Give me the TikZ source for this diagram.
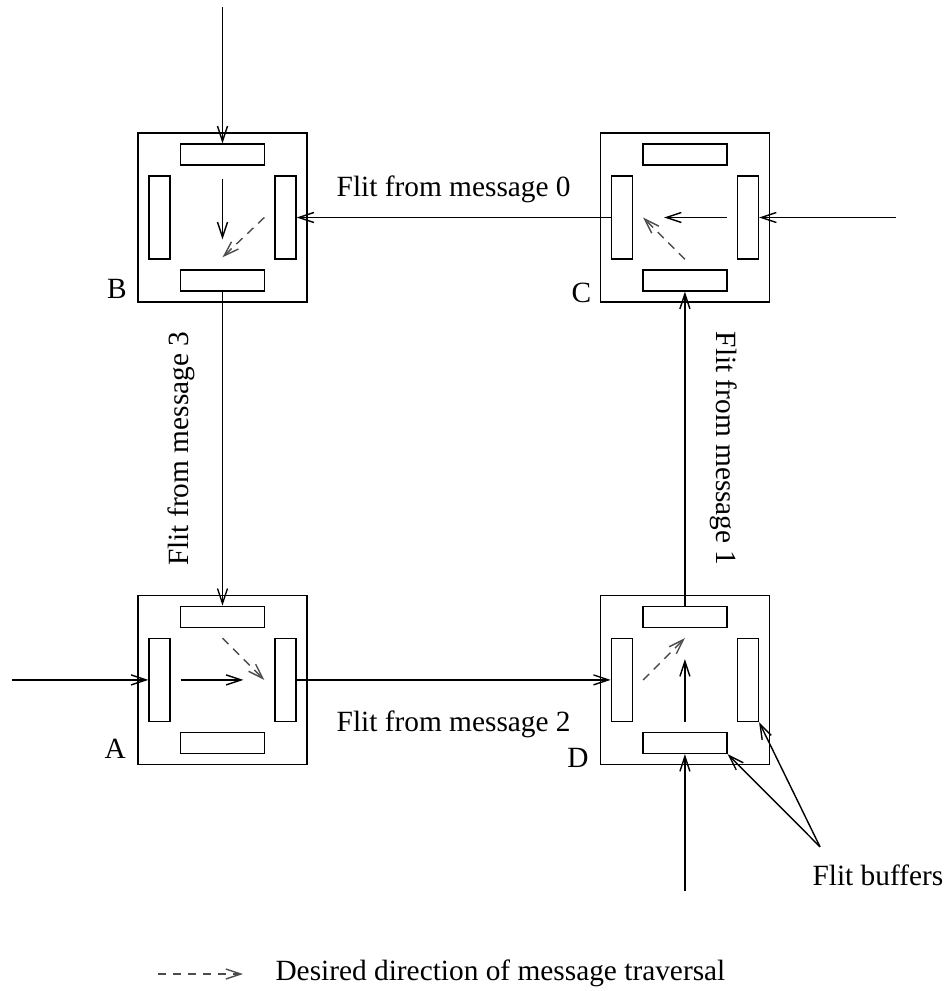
\documentclass[tikz,border=0pt]{standalone}
\usepackage{fontspec}
\setmainfont{Liberation Serif}
\usetikzlibrary{positioning}
\usetikzlibrary{calc}
\usetikzlibrary{arrows.meta}

\begin{document}
\begin{tikzpicture}[
    font=\fontsize{16.7}{20}\selectfont,
    line width=0.8pt,
    >={Straight Barb[length=3mm, width=2mm]},
    node distance=5.84cm,
    router/.style={draw, minimum size=3.38cm, inner sep=0pt},
    hbuf/.style={draw, minimum width=1.68cm, minimum height=0.42cm, inner sep=0pt},
    vbuf/.style={draw, minimum width=0.42cm, minimum height=1.66cm, inner sep=0pt},
    desired/.style={->, dash pattern=on 1.7mm off 1.3mm, black!70},
    ]

    \useasboundingbox (-4.45,4.35) rectangle (14.45,-15.47);

    \node[router, label={[anchor=base east, xshift=-0.08cm, yshift=0.08cm]south west:B}] (B) {};
    \node[router, right=of B, label={[anchor=base east, xshift=-0.04cm]south west:C}] (C) {};
    \node[router, below=of B, label={[anchor=base east, xshift=-0.1cm, yshift=0.14cm]south west:A}] (A) {};
    \node[router, right=of A, label={[anchor=base east, xshift=-0.09cm, yshift=-0.04cm]south west:D}] (D) {};

    \foreach \r in {A,B,C,D} {
        \node[hbuf] (\r-n) at ([yshift=1.26cm]\r.center) {};
        \node[hbuf] (\r-s) at ([yshift=-1.26cm]\r.center) {};
        \node[vbuf] (\r-e) at ([xshift=1.26cm]\r.center) {};
        \node[vbuf] (\r-w) at ([xshift=-1.26cm]\r.center) {};
    }

    % incoming flits
    \coordinate[above=2.73cm of B-n] (Bin);
    \coordinate[right=2.73cm of C-e] (Cin);
    \coordinate[left=2.73cm of A-w] (Ain);
    \coordinate[below=2.73cm of D-s] (Din);
    \draw[->] (Bin) -- (B-n);
    \draw[->] (Cin) -- (C-e);
    \draw[->] (Ain) -- (A-w);
    \draw[->] (Din) -- (D-s);

    % links between routers
    \draw[->] (C-w) -- node[above=1.7mm] (m0) {Flit from message 0} (B-e);
    \draw[->] (A-e) -- node[below=4.9mm] (m2) {Flit from message 2} (D-w);
    \draw[->] (B-s) -- (A-n);
    \draw[->] (D-n) -- (C-s);
    \node[rotate=90, anchor=south] (m3) at ([xshift=-0.43cm]$(B-s)!0.5!(A-n)$) {Flit from message 3};
    \node[rotate=-90, anchor=south] (m1) at ([xshift=0.38cm]$(D-n)!0.5!(C-s)$) {Flit from message 1};

    % inside the routers
    \draw[->, shorten <=0.26cm, shorten >=0.6cm] (B-n) -- (B-s);
    \draw[->, shorten <=0.2cm, shorten >=0.62cm] (C-e) -- (C-w);
    \draw[->, shorten <=0.2cm, shorten >=0.62cm] (A-w) -- (A-e);
    \draw[->, shorten <=0.2cm, shorten >=0.62cm] (D-s) -- (D-n);
    \draw[desired] ([xshift=-2mm]B-e.west) -- ([yshift=2.4mm]B-s.north);
    \draw[desired] ([yshift=2mm]C-s.north) -- ([xshift=2mm]C-w.east);
    \draw[desired] ([yshift=-2mm]A-n.south) -- ([xshift=-2mm]A-e.west);
    \draw[desired] ([xshift=2mm]D-w.east) -- ([yshift=-2mm]D-n.south);

    % flit buffers
    \node[anchor=base west] (fb) at (11.67,-13.35) {Flit buffers};
    \coordinate (fbtip) at ([shift={(0.28cm,0.22cm)}]fb.north west);
    \draw[->] (fbtip) -- (D-s.south east);
    \draw[->] (fbtip) -- (D-e.south east);

    % legend
    \node[anchor=base west] (legtxt) at (0.93,-15.25) {Desired direction of message traversal};
    \coordinate (legB) at ([shift={(-0.52cm,0.12cm)}]legtxt.base west);
    \coordinate (legA) at ([xshift=-1.7cm]legB);
    \draw[desired] (legA) -- (legB);
\end{tikzpicture}
\end{document}
